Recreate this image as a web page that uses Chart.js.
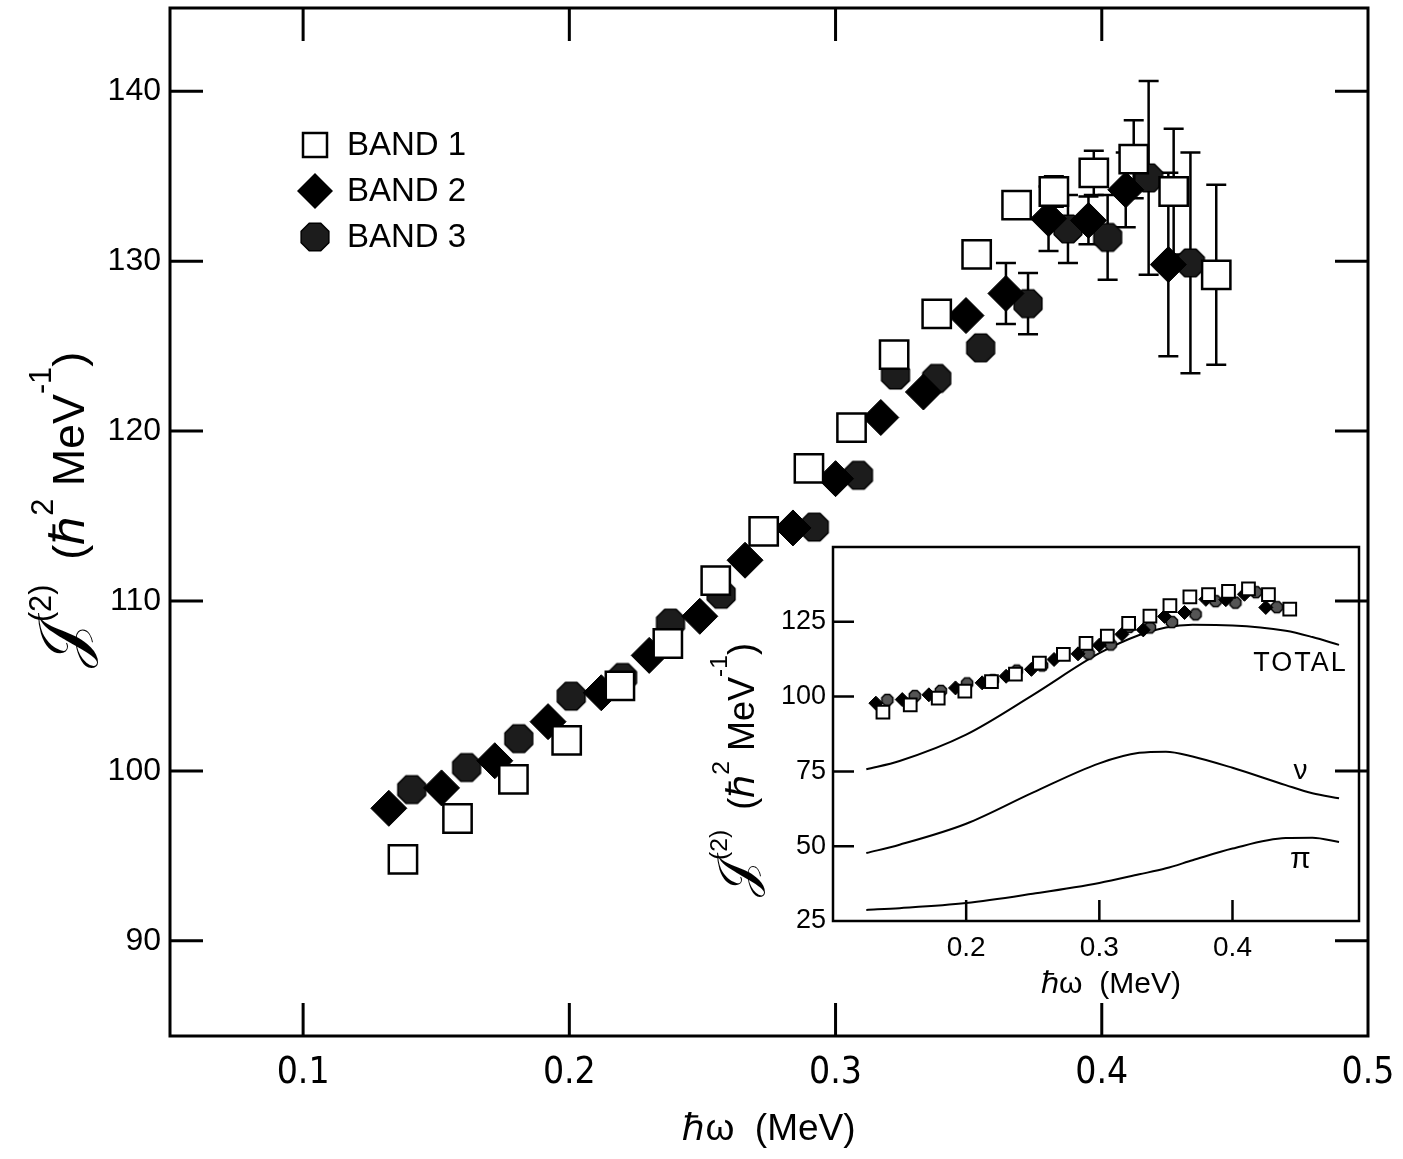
<!DOCTYPE html>
<html>
<head>
<meta charset="utf-8">
<script src="https://cdn.jsdelivr.net/npm/chart.js@4.4.1/dist/chart.umd.min.js"></script>
<style>
  html, body { margin: 0; padding: 0; background: #fff; }
  #wrap { position: relative; width: 1403px; height: 1159px; }
  #main { position: absolute; left: 0; top: 0; }
  #inset { position: absolute; left: 690px; top: 530px; }
</style>
</head>
<body>
<div id="wrap">
  <canvas id="main" width="1403" height="1159"></canvas>
  <canvas id="inset" width="700" height="480"></canvas>
</div>
<script>
// ---- datos ----
const band1X = [0.1375, 0.158, 0.179, 0.199, 0.219, 0.237, 0.255, 0.273, 0.290, 0.306, 0.322, 0.338, 0.353, 0.368, 0.382, 0.397, 0.412, 0.427, 0.443];
const band1Y = [94.8, 97.2, 99.5, 101.8, 105.0, 107.5, 111.2, 114.1, 117.8, 120.2, 124.5, 126.9, 130.4, 133.3, 134.1, 135.2, 136.0, 134.1, 129.2];
const band1Err = [0, 0, 0, 0, 0, 0, 0, 0, 0, 0, 0, 0, 0, 0, 0.9, 1.3, 2.3, 3.7, 5.3];

const band2X = [0.1322, 0.152, 0.172, 0.192, 0.212, 0.230, 0.249, 0.266, 0.284, 0.300, 0.317, 0.333, 0.349, 0.364, 0.380, 0.395, 0.409, 0.425];
const band2Y = [97.8, 99.0, 100.6, 102.9, 104.6, 106.8, 109.1, 112.4, 114.3, 117.2, 120.8, 122.3, 126.8, 128.1, 132.5, 132.4, 134.2, 129.8];
const band2Err = [0, 0, 0, 0, 0, 0, 0, 0, 0, 0, 0, 0, 0, 1.8, 1.9, 1.4, 2.2, 5.4];

const band3X = [0.1408, 0.1614, 0.181, 0.2007, 0.220, 0.238, 0.257, 0.292, 0.3086, 0.3225, 0.338, 0.3545, 0.3723, 0.3873, 0.4022, 0.4176, 0.4333];
const band3Y = [98.9, 100.2, 101.9, 104.4, 105.5, 108.7, 110.4, 114.35, 117.4, 123.3, 123.1, 124.9, 127.5, 131.9, 131.4, 134.9, 129.9];
const band3Err = [0, 0, 0, 0, 0, 0, 0, 0, 0, 0, 0, 0, 1.8, 2.0, 2.5, 5.7, 6.5];

// curvas teoricas del recuadro
const curveX = [0.125, 0.15, 0.2, 0.25, 0.3, 0.33, 0.35, 0.37, 0.4, 0.44, 0.46, 0.48];
const totalY = [75.7, 78.5, 87.3, 100.5, 114.5, 120.6, 123.1, 124.0, 123.8, 122.0, 119.9, 117.3];
const nuY = [47.7, 50.5, 57.5, 67.9, 77.7, 81.2, 81.6, 80.0, 76.2, 70.4, 67.7, 66.0];
const piY = [28.7, 29.3, 31.0, 34.1, 37.7, 40.6, 42.6, 45.3, 49.2, 52.7, 52.8, 51.4];

const bandLabels = ['BAND 1', 'BAND 2', 'BAND 3'];
const curveLabels = ['TOTAL', 'ν', 'π'];

const xTitle = 'ℏω  (MeV)';

const FONT = "'Liberation Sans', Arial, sans-serif";
const NARROW = "'Liberation Sans Narrow', 'DejaVu Sans Condensed', 'Liberation Sans', sans-serif";

// titulo vertical con superindices: J(2) (hbar^2 MeV^-1)
function yTitleParts(k) {
    return [
        { t: '𝒥', size: 56 * k },
        { t: '(2)', size: 26 * k, rise: 28 * k },
        { t: '  (', size: 38 * k },
        { t: 'ℏ', size: 40 * k },
        { t: '2', size: 26 * k, rise: 26 * k },
        { t: ' MeV', size: 38 * k },
        { t: '-1', size: 26 * k, rise: 28 * k },
        { t: ')', size: 38 * k }
    ];
}

const pts = (xs, ys) => xs.map((x, i) => ({ x: x, y: ys[i] }));

// octagono para BAND 3
function octagon(r, fill) {
    const c = document.createElement('canvas');
    const s = Math.ceil(2 * r + 4);
    c.width = c.height = s;
    const g = c.getContext('2d');
    g.beginPath();
    for (let k = 0; k < 8; k++) {
        const a = Math.PI / 8 + k * Math.PI / 4;
        g.lineTo(s / 2 + r * Math.cos(a), s / 2 + r * Math.sin(a));
    }
    g.closePath();
    g.fillStyle = fill;
    g.fill();
    g.lineWidth = 1.5;
    g.strokeStyle = '#000';
    g.stroke();
    return c;
}
const octBig = octagon(15, '#1c1c1c');
const octSmall = octagon(6, '#555');

// barras de error
const errorBars = {
    id: 'errorBars',
    beforeDatasetsDraw(chart, args, o) {
        const { ctx, scales: { x, y } } = chart;
        ctx.save();
        ctx.strokeStyle = '#000';
        ctx.lineWidth = o.width;
        chart.data.datasets.forEach(ds => {
            if (!ds.errs) return;
            ds.data.forEach((p, i) => {
                const e = ds.errs[i];
                if (!e) return;
                const px = x.getPixelForValue(p.x);
                const y1 = y.getPixelForValue(p.y + e);
                const y2 = y.getPixelForValue(p.y - e);
                ctx.beginPath();
                ctx.moveTo(px, y1); ctx.lineTo(px, y2);
                ctx.moveTo(px - o.cap, y1); ctx.lineTo(px + o.cap, y1);
                ctx.moveTo(px - o.cap, y2); ctx.lineTo(px + o.cap, y2);
                ctx.stroke();
            });
        });
        ctx.restore();
    }
};

// marco y marcas hacia dentro
const frameTicks = {
    id: 'frameTicks',
    afterDraw(chart, args, o) {
        const { ctx, chartArea: a, scales: { x, y } } = chart;
        ctx.save();
        ctx.strokeStyle = '#000';
        ctx.lineWidth = o.width;
        ctx.strokeRect(a.left, a.top, a.right - a.left, a.bottom - a.top);
        ctx.beginPath();
        x.ticks.forEach(t => {
            const px = x.getPixelForValue(t.value);
            if (px < a.left + 4 || px > a.right - 4) return;
            if (o.sides.includes('bottom')) { ctx.moveTo(px, a.bottom); ctx.lineTo(px, a.bottom - o.len); }
            if (o.sides.includes('top')) { ctx.moveTo(px, a.top); ctx.lineTo(px, a.top + o.len); }
        });
        y.ticks.forEach(t => {
            const py = y.getPixelForValue(t.value);
            if (py < a.top + 4 || py > a.bottom - 4) return;
            if (o.sides.includes('left')) { ctx.moveTo(a.left, py); ctx.lineTo(a.left + o.len, py); }
            if (o.sides.includes('right')) { ctx.moveTo(a.right, py); ctx.lineTo(a.right - o.len, py); }
        });
        ctx.stroke();
        ctx.restore();
    }
};

// titulo del eje y (girado) con superindices
const richTitle = {
    id: 'richTitle',
    afterDraw(chart, args, o) {
        const ctx = chart.ctx;
        const a = chart.chartArea;
        ctx.save();
        ctx.fillStyle = '#000';
        ctx.textBaseline = 'alphabetic';
        let total = 0;
        o.parts.forEach(s => {
            ctx.font = s.size + 'px ' + FONT;
            s.w = ctx.measureText(s.t).width;
            total += s.w;
        });
        ctx.translate(o.x, (a.top + a.bottom) / 2 + o.shift);
        ctx.rotate(-Math.PI / 2);
        let pos = -total / 2;
        o.parts.forEach(s => {
            ctx.font = s.size + 'px ' + FONT;
            ctx.fillText(s.t, pos, -(s.rise || 0));
            pos += s.w;
        });
        ctx.restore();
    }
};

// leyenda dentro del area
const bandLegend = {
    id: 'bandLegend',
    afterDraw(chart, args, o) {
        const ctx = chart.ctx;
        ctx.save();
        ctx.font = '33px ' + FONT;
        ctx.textBaseline = 'middle';
        chart.data.datasets.forEach((ds, i) => {
            const cx = o.x, cy = o.y + i * o.gap;
            ctx.strokeStyle = '#000';
            if (ds.pointStyle === 'rect') {
                ctx.fillStyle = '#fff';
                ctx.lineWidth = 2.5;
                ctx.fillRect(cx - 12, cy - 12, 24, 24);
                ctx.strokeRect(cx - 12, cy - 12, 24, 24);
            } else if (ds.pointStyle === 'rectRot') {
                ctx.fillStyle = '#000';
                ctx.beginPath();
                ctx.moveTo(cx, cy - 18); ctx.lineTo(cx + 18, cy); ctx.lineTo(cx, cy + 18); ctx.lineTo(cx - 18, cy);
                ctx.closePath();
                ctx.fill();
            } else {
                ctx.drawImage(ds.pointStyle, cx - ds.pointStyle.width / 2, cy - ds.pointStyle.height / 2);
            }
            ctx.fillStyle = '#000';
            ctx.fillText(ds.label, o.x + 32, cy + 1);
        });
        ctx.restore();
    }
};

// etiquetas de las curvas del recuadro
const curveTags = {
    id: 'curveTags',
    afterDatasetsDraw(chart, args, o) {
        const { ctx, scales: { x, y } } = chart;
        ctx.save();
        ctx.fillStyle = '#000';
        ctx.textAlign = 'center';
        ctx.textBaseline = 'middle';
        o.tags.forEach(t => {
            ctx.font = t.size + 'px ' + FONT;
            if (ctx.letterSpacing !== undefined) ctx.letterSpacing = t.spacing || '0px';
            ctx.fillText(t.text, x.getPixelForValue(t.x), y.getPixelForValue(t.y));
        });
        ctx.restore();
    }
};

Chart.defaults.color = '#000';

// ---- grafico principal ----
new Chart(document.getElementById('main'), {
    type: 'scatter',
    data: {
        datasets: [
            { label: bandLabels[0], data: pts(band1X, band1Y), errs: band1Err, pointStyle: 'rect', pointRadius: 20, backgroundColor: '#fff', borderColor: '#000', borderWidth: 2.5, order: 0 },
            { label: bandLabels[1], data: pts(band2X, band2Y), errs: band2Err, pointStyle: 'rectRot', pointRadius: 18, backgroundColor: '#000', borderColor: '#000', borderWidth: 1, order: 1 },
            { label: bandLabels[2], data: pts(band3X, band3Y), errs: band3Err, pointStyle: octBig, pointRadius: 15, backgroundColor: '#1c1c1c', borderColor: '#000', order: 2 }
        ]
    },
    options: {
        responsive: false,
        animation: false,
        devicePixelRatio: 1,
        events: [],
        layout: { autoPadding: false, padding: { top: 8, right: 35, left: 0, bottom: 0 } },
        plugins: {
            legend: { display: false },
            tooltip: { enabled: false },
            errorBars: { width: 2.5, cap: 10 },
            frameTicks: { width: 3, len: 33, sides: ['top', 'bottom', 'left', 'right'] },
            bandLegend: { x: 315, y: 145, gap: 46 },
            richTitle: { parts: yTitleParts(1.18), x: 84, shift: -12 }
        },
        scales: {
            x: {
                type: 'linear', min: 0.05, max: 0.5,
                ticks: { stepSize: 0.1, includeBounds: false, padding: 15, font: { size: 37, family: NARROW }, color: '#000', maxRotation: 0,
                    callback: v => v.toFixed(1) },
                grid: { display: false, drawTicks: false },
                border: { display: false },
                title: { display: true, text: xTitle, font: { size: 37, family: FONT }, color: '#000', padding: { top: 0, bottom: 7 } },
                afterFit: s => { s.height = 123; s.paddingLeft = 0; s.paddingRight = 0; }
            },
            y: {
                type: 'linear', min: 84.4, max: 144.9,
                ticks: { stepSize: 10, includeBounds: false, padding: 9, font: { size: 32, family: FONT }, color: '#000' },
                grid: { display: false, drawTicks: false },
                border: { display: false },
                title: { display: false },
                afterFit: s => { s.width = 170; s.paddingTop = 0; s.paddingBottom = 0; }
            }
        }
    },
    plugins: [errorBars, frameTicks, bandLegend, richTitle]
});

// ---- recuadro ----
new Chart(document.getElementById('inset'), {
    type: 'scatter',
    data: {
        datasets: [
            { label: bandLabels[0], data: pts(band1X, band1Y), pointStyle: 'rect', pointRadius: 9, backgroundColor: '#fff', borderColor: '#000', borderWidth: 2, order: 0 },
            { label: bandLabels[1], data: pts(band2X, band2Y), pointStyle: 'rectRot', pointRadius: 7, backgroundColor: '#000', borderColor: '#000', borderWidth: 1, order: 1 },
            { label: bandLabels[2], data: pts(band3X, band3Y), pointStyle: octSmall, pointRadius: 6, backgroundColor: '#555', borderColor: '#000', order: 2 },
            { type: 'line', label: curveLabels[0], data: pts(curveX, totalY), borderColor: '#000', borderWidth: 2, pointRadius: 0, cubicInterpolationMode: 'monotone', fill: false, order: 5 },
            { type: 'line', label: curveLabels[1], data: pts(curveX, nuY), borderColor: '#000', borderWidth: 2, pointRadius: 0, cubicInterpolationMode: 'monotone', fill: false, order: 5 },
            { type: 'line', label: curveLabels[2], data: pts(curveX, piY), borderColor: '#000', borderWidth: 2, pointRadius: 0, cubicInterpolationMode: 'monotone', fill: false, order: 5 }
        ]
    },
    options: {
        responsive: false,
        animation: false,
        devicePixelRatio: 1,
        events: [],
        layout: { autoPadding: false, padding: { top: 17, right: 31, left: 0, bottom: 0 } },
        plugins: {
            legend: { display: false },
            tooltip: { enabled: false },
            frameTicks: { width: 2.5, len: 21, sides: ['bottom', 'left'] },
            richTitle: { parts: yTitleParts(0.95), x: 64, shift: 36 },
            curveTags: { tags: [
                { text: curveLabels[0], x: 0.451, y: 111, size: 27, spacing: '2px' },
                { text: curveLabels[1], x: 0.451, y: 75, size: 28 },
                { text: curveLabels[2], x: 0.451, y: 45.5, size: 30 }
            ] }
        },
        scales: {
            x: {
                type: 'linear', min: 0.1, max: 0.495,
                ticks: { stepSize: 0.1, includeBounds: false, padding: 10, font: { size: 28, family: FONT }, color: '#000', maxRotation: 0,
                    callback: v => (v < 0.15 ? '' : v.toFixed(1)) },
                grid: { display: false, drawTicks: false },
                border: { display: false },
                title: { display: true, text: '\u2002\u2002' + xTitle, font: { size: 30, family: FONT }, color: '#000', padding: { top: 0, bottom: 7 } },
                afterFit: s => { s.height = 89; s.paddingLeft = 0; s.paddingRight = 0; }
            },
            y: {
                type: 'linear', min: 25, max: 150,
                ticks: { stepSize: 25, includeBounds: false, padding: 7, font: { size: 27, family: FONT }, color: '#000',
                    callback: v => (v >= 150 ? '' : v) },
                grid: { display: false, drawTicks: false },
                border: { display: false },
                title: { display: false },
                afterFit: s => { s.width = 143; s.paddingTop = 0; s.paddingBottom = 0; }
            }
        }
    },
    plugins: [frameTicks, curveTags, richTitle]
});
</script>
</body>
</html>
